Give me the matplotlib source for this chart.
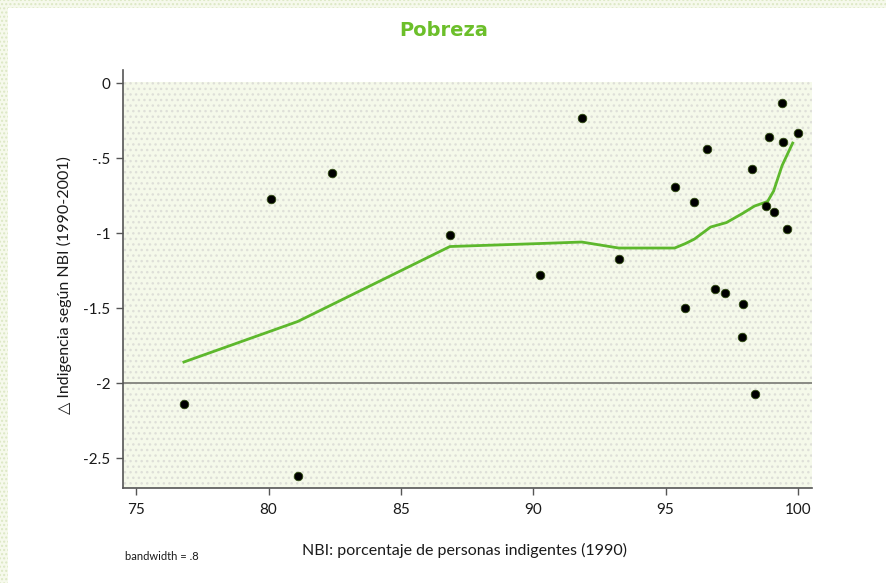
import matplotlib
matplotlib.use("Agg")
import matplotlib.pyplot as plt
from matplotlib.patches import Rectangle

# NBI indigence 1990 (%) vs. change in indigence 1990-2001
nbi_1990 = [76.8, 81.1, 80.1, 82.4, 86.85, 90.25, 91.83, 93.23, 95.34, 96.09,
            96.55, 95.75, 96.85, 97.23, 97.92, 97.87, 98.36, 98.25, 98.89, 98.81,
            99.08, 99.38, 99.45, 99.6, 100.0]
delta_indig = [-2.14, -2.62, -0.77, -0.60, -1.01, -1.28, -0.23, -1.17, -0.69, -0.79,
               -0.44, -1.50, -1.37, -1.40, -1.47, -1.69, -2.07, -0.57, -0.36, -0.82,
               -0.86, -0.13, -0.39, -0.97, -0.33]

# Lowess smooth (bandwidth = .8)
fit_x = [76.8, 81.1, 86.85, 90.25, 91.83, 93.23, 95.34, 95.75, 96.09, 96.7,
         97.3, 97.9, 98.36, 98.85, 99.08, 99.4, 99.8]
fit_y = [-1.86, -1.59, -1.09, -1.07, -1.06, -1.10, -1.10, -1.07, -1.04, -0.96,
         -0.93, -0.87, -0.82, -0.79, -0.72, -0.55, -0.40]

x_ticks = [75, 80, 85, 90, 95, 100]
y_ticks = [0, -0.5, -1, -1.5, -2, -2.5]
y_tick_labels = ["0", "-.5", "-1", "-1.5", "-2", "-2.5"]

title = "Pobreza"
xlabel = "NBI: porcentaje de personas indigentes (1990)"
ylabel = "\u25b3 Indigencia según NBI (1990-2001)"
note = "bandwidth = .8"

plt.rcParams["font.family"] = ["Lato", "DejaVu Sans"]
plt.rcParams["hatch.linewidth"] = 1.0

fig = plt.figure(figsize=(8.87, 5.83), dpi=100)
fig.patch.set_facecolor("white")

# dotted frame strips along the top and left edges
for rect in [(0, 1 - 8 / 583, 1, 8 / 583), (0, 0, 8 / 887, 1)]:
    fig.patches.append(Rectangle(rect[:2], rect[2], rect[3], transform=fig.transFigure,
                                 facecolor="#f6f9ec", edgecolor="#dce8c4", hatch="....",
                                 linewidth=0, zorder=0))

ax = fig.add_axes([123 / 887, 1 - 488 / 583, 689 / 887, 418 / 583])
ax.set_xlim(74.5, 100.53)
ax.set_ylim(-2.7, 0.087)
ax.set_facecolor("none")

# dotted plot background
ax.add_patch(Rectangle((74.5, -2.7), 100.53 - 74.5, 2.705, facecolor="#f5f9ea",
                       edgecolor="#dedfd8", hatch="...", linewidth=0, zorder=0))

ax.axhline(-2, color="#8a8a84", linewidth=1.4, zorder=1)
ax.plot(fit_x, fit_y, color="#5db82c", linewidth=2.0, zorder=2,
        solid_joinstyle="round")
ax.scatter(nbi_1990, delta_indig, s=38, color="black", edgecolors="#2f4a10",
           linewidths=0.6, zorder=3)

for side in ["top", "right"]:
    ax.spines[side].set_visible(False)
for side in ["left", "bottom"]:
    ax.spines[side].set_color("#555555")
    ax.spines[side].set_linewidth(1.2)

ax.set_xticks(x_ticks)
ax.set_xticklabels([str(t) for t in x_ticks])
ax.set_yticks(y_ticks)
ax.set_yticklabels(y_tick_labels)
ax.tick_params(axis="both", direction="out", length=5, width=1, color="#555555",
               labelsize=11, labelcolor="#1a1a1a")
ax.tick_params(axis="y", pad=4)
ax.tick_params(axis="x", pad=6)

fig.text(0.5, 1 - 31 / 583, title, ha="center", va="center", fontsize=14,
         fontweight="heavy", color="#6cbf2a", family=["DejaVu Sans"])
fig.text(465 / 887, 1 - 550 / 583, xlabel, ha="center", va="center", fontsize=11.5,
         color="#1a1a1a")
fig.text(64 / 887, 1 - 285 / 583, ylabel, ha="center", va="center", fontsize=11.5,
         rotation=90, color="#1a1a1a")
fig.text(125 / 887, 1 - 557 / 583, note, ha="left", va="center", fontsize=8,
         color="#1a1a1a")

fig.savefig("out.png", dpi=100)
